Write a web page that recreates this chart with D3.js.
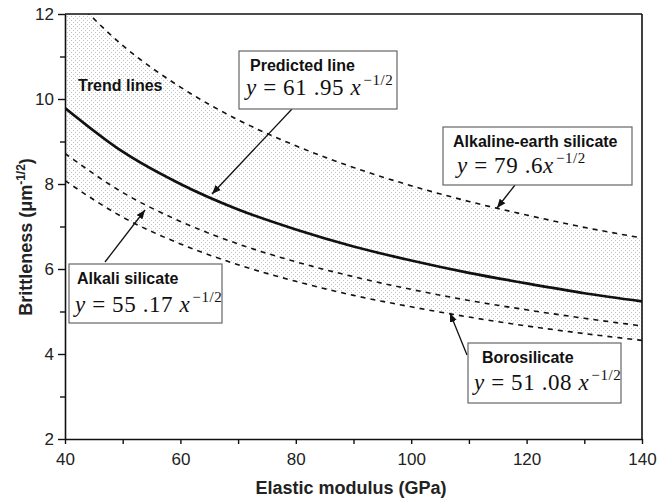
<!DOCTYPE html>
<html lang="en">
<head>
<meta charset="UTF-8">
<title>Brittleness vs elastic modulus</title>
<style>
    body { margin: 0; background: #fff; }
    .tick text { font-family: "Liberation Sans", Arial, sans-serif; font-size: 17px; fill: #222; }
    .axis-title { font-family: "Liberation Sans", Arial, sans-serif; font-size: 18px; font-weight: bold; fill: #222; }
    .note-title { font-family: "Liberation Sans", Arial, sans-serif; font-size: 16px; font-weight: bold; fill: #111; }
    .eq { font-family: "Liberation Serif", "Times New Roman", serif; font-size: 23px; fill: #111; letter-spacing: 0.6px; }
    .curve { fill: none; stroke: #111; }
</style>
</head>
<body>
<svg id="chart" width="665" height="500"></svg>

<script src="https://cdn.jsdelivr.net/npm/d3@7/dist/d3.min.js"></script>
<script>

// values
let modulus = [40, 50, 60, 70, 80, 90, 100, 110, 120, 130, 140]
let predicted = [9.79, 8.76, 8.00, 7.40, 6.93, 6.53, 6.20, 5.91, 5.66, 5.43, 5.24]
let alkalineEarth = [12.58, 11.26, 10.28, 9.51, 8.90, 8.39, 7.96, 7.59, 7.27, 6.98, 6.73]
let alkali = [8.72, 7.80, 7.12, 6.59, 6.17, 5.82, 5.52, 5.26, 5.04, 4.84, 4.66]
let boro = [8.08, 7.22, 6.59, 6.10, 5.71, 5.38, 5.11, 4.87, 4.66, 4.48, 4.32]

let xTicks = [40, 60, 80, 100, 120, 140]
let yTicks = [2, 4, 6, 8, 10, 12]

let margin = {left: 65, top: 14}
let width = 577
let height = 425

let svg = d3.select("#chart")
let body = svg.append("g").attr("transform", `translate(${margin.left},${margin.top})`)

let x = d3.scaleLinear().domain([40, 140]).range([0, width])
let y = d3.scaleLinear().domain([2, 12]).range([height, 0])

// dotted shading
let defs = svg.append("defs")
let pat = defs.append("pattern")
    .attr("id", "dots")
    .attr("patternUnits", "userSpaceOnUse")
    .attr("width", 4).attr("height", 4)
pat.append("rect").attr("x", 0).attr("y", 0).attr("width", 1).attr("height", 1).attr("fill", "#c2c2c2")
pat.append("rect").attr("x", 2).attr("y", 2).attr("width", 1).attr("height", 1).attr("fill", "#c2c2c2")

defs.append("clipPath").attr("id", "plot-clip")
    .append("rect").attr("width", width).attr("height", height)

defs.append("marker")
    .attr("id", "arrow")
    .attr("viewBox", "0 0 10 10")
    .attr("refX", 10).attr("refY", 5)
    .attr("markerWidth", 9).attr("markerHeight", 9)
    .attr("markerUnits", "userSpaceOnUse")
    .attr("orient", "auto")
    .append("path").attr("d", "M0,1 L10,5 L0,9 Z").attr("fill", "#111")

let band = modulus.map((m, i) => ({m: m, hi: alkalineEarth[i], lo: boro[i]}))

let plot = body.append("g").attr("clip-path", "url(#plot-clip)")

plot.append("path")
    .datum(band)
    .attr("fill", "url(#dots)")
    .attr("d", d3.area()
        .x(d => x(d.m))
        .y0(d => y(d.lo))
        .y1(d => y(d.hi))
        .curve(d3.curveMonotoneX))

let line = d3.line().x(d => d[0]).y(d => d[1]).curve(d3.curveMonotoneX)
function pts(vals) { return modulus.map((m, i) => [x(m), y(vals[i])]) }

let dashed = [alkalineEarth, alkali, boro]
dashed.forEach(vals => {
    plot.append("path")
        .attr("class", "curve")
        .attr("d", line(pts(vals)))
        .attr("stroke-width", 1.6)
        .attr("stroke-dasharray", "5,5")
})

plot.append("path")
    .attr("class", "curve")
    .attr("d", line(pts(predicted)))
    .attr("stroke-width", 2.7)

// axes
body.append("g")
    .attr("transform", `translate(0,${height})`)
    .call(d3.axisBottom(x).tickValues(xTicks).tickSize(5).tickPadding(9).tickSizeOuter(0))
body.append("g")
    .attr("transform", `translate(0,${height})`)
    .call(d3.axisBottom(x).tickValues([50, 70, 90, 110, 130]).tickSize(5).tickFormat("").tickSizeOuter(0))
    .select(".domain").remove()

body.append("g")
    .call(d3.axisLeft(y).tickValues(yTicks).tickSize(7).tickPadding(4).tickSizeOuter(0))
body.append("g")
    .call(d3.axisLeft(y).tickValues([3, 5, 7, 9, 11]).tickSize(5).tickFormat("").tickSizeOuter(0))
    .select(".domain").remove()

body.selectAll(".domain").attr("stroke", "#111").attr("stroke-width", 1.6)
body.selectAll(".tick line").attr("stroke", "#111").attr("stroke-width", 1.4)

// frame top and right
body.append("line").attr("x1", 0).attr("x2", width).attr("y1", 0).attr("y2", 0)
    .attr("stroke", "#111").attr("stroke-width", 1.6)
body.append("line").attr("x1", width).attr("x2", width).attr("y1", 0).attr("y2", height)
    .attr("stroke", "#111").attr("stroke-width", 1.6)

// axis titles
svg.append("text")
    .attr("class", "axis-title")
    .attr("x", 351)
    .attr("y", 494)
    .attr("text-anchor", "middle")
    .text("Elastic modulus (GPa)")

let yt = svg.append("text")
    .attr("class", "axis-title")
    .attr("transform", "translate(32,237) rotate(-90)")
    .attr("text-anchor", "middle")
yt.append("tspan").text("Brittleness (\u03bcm")
yt.append("tspan").attr("font-size", "12px").attr("dy", -7).text("-1/2")
yt.append("tspan").attr("dy", 7).text(")")

// annotations
svg.append("text").attr("class", "note-title").attr("font-size", "14px")
    .attr("x", 78).attr("y", 91).text("Trend lines")

let notes = [
    {title: "Predicted line", coef: "61 .95 ", box: [239, 51, 158, 58], tx: 11, ex: 7, ty: 20, ey: 44, fs: 16, from: [292, 109], to: [212, 194]},
    {title: "Alkaline-earth silicate", coef: "79 .6", box: [443, 127, 189, 58], tx: 10, ex: 14, ty: 20, ey: 46, fs: 14, from: [515, 185], to: [497, 208]},
    {title: "Alkali silicate", coef: "55 .17 ", box: [69, 264, 153, 59], tx: 8, ex: 6, ty: 20, ey: 48, fs: 16, from: [105, 262], to: [145, 210]},
    {title: "Borosilicate", coef: "51 .08 ", box: [468, 343, 153, 60], tx: 14, ex: 6, ty: 20, ey: 47, fs: 16, from: [467, 355], to: [450, 313]}
]

notes.forEach(n => {
    svg.append("line")
        .attr("x1", n.from[0]).attr("y1", n.from[1])
        .attr("x2", n.to[0]).attr("y2", n.to[1])
        .attr("stroke", "#111").attr("stroke-width", 1.3)
        .attr("marker-end", "url(#arrow)")
    svg.append("rect")
        .attr("x", n.box[0]).attr("y", n.box[1])
        .attr("width", n.box[2]).attr("height", n.box[3])
        .attr("fill", "#fff").attr("stroke", "#666").attr("stroke-width", 1.2)
    svg.append("text").attr("class", "note-title")
        .attr("font-size", n.fs + "px")
        .attr("x", n.box[0] + n.tx).attr("y", n.box[1] + n.ty)
        .text(n.title)
    let eq = svg.append("text").attr("class", "eq")
        .attr("x", n.box[0] + n.ex).attr("y", n.box[1] + n.ey)
    eq.append("tspan").attr("font-style", "italic").text("y")
    eq.append("tspan").text(" = " + n.coef)
    eq.append("tspan").attr("font-style", "italic").text("x")
    eq.append("tspan").attr("font-size", "15px").attr("dx", 2).attr("dy", -10).text("\u22121/2")
})

</script>
</body>
</html>
